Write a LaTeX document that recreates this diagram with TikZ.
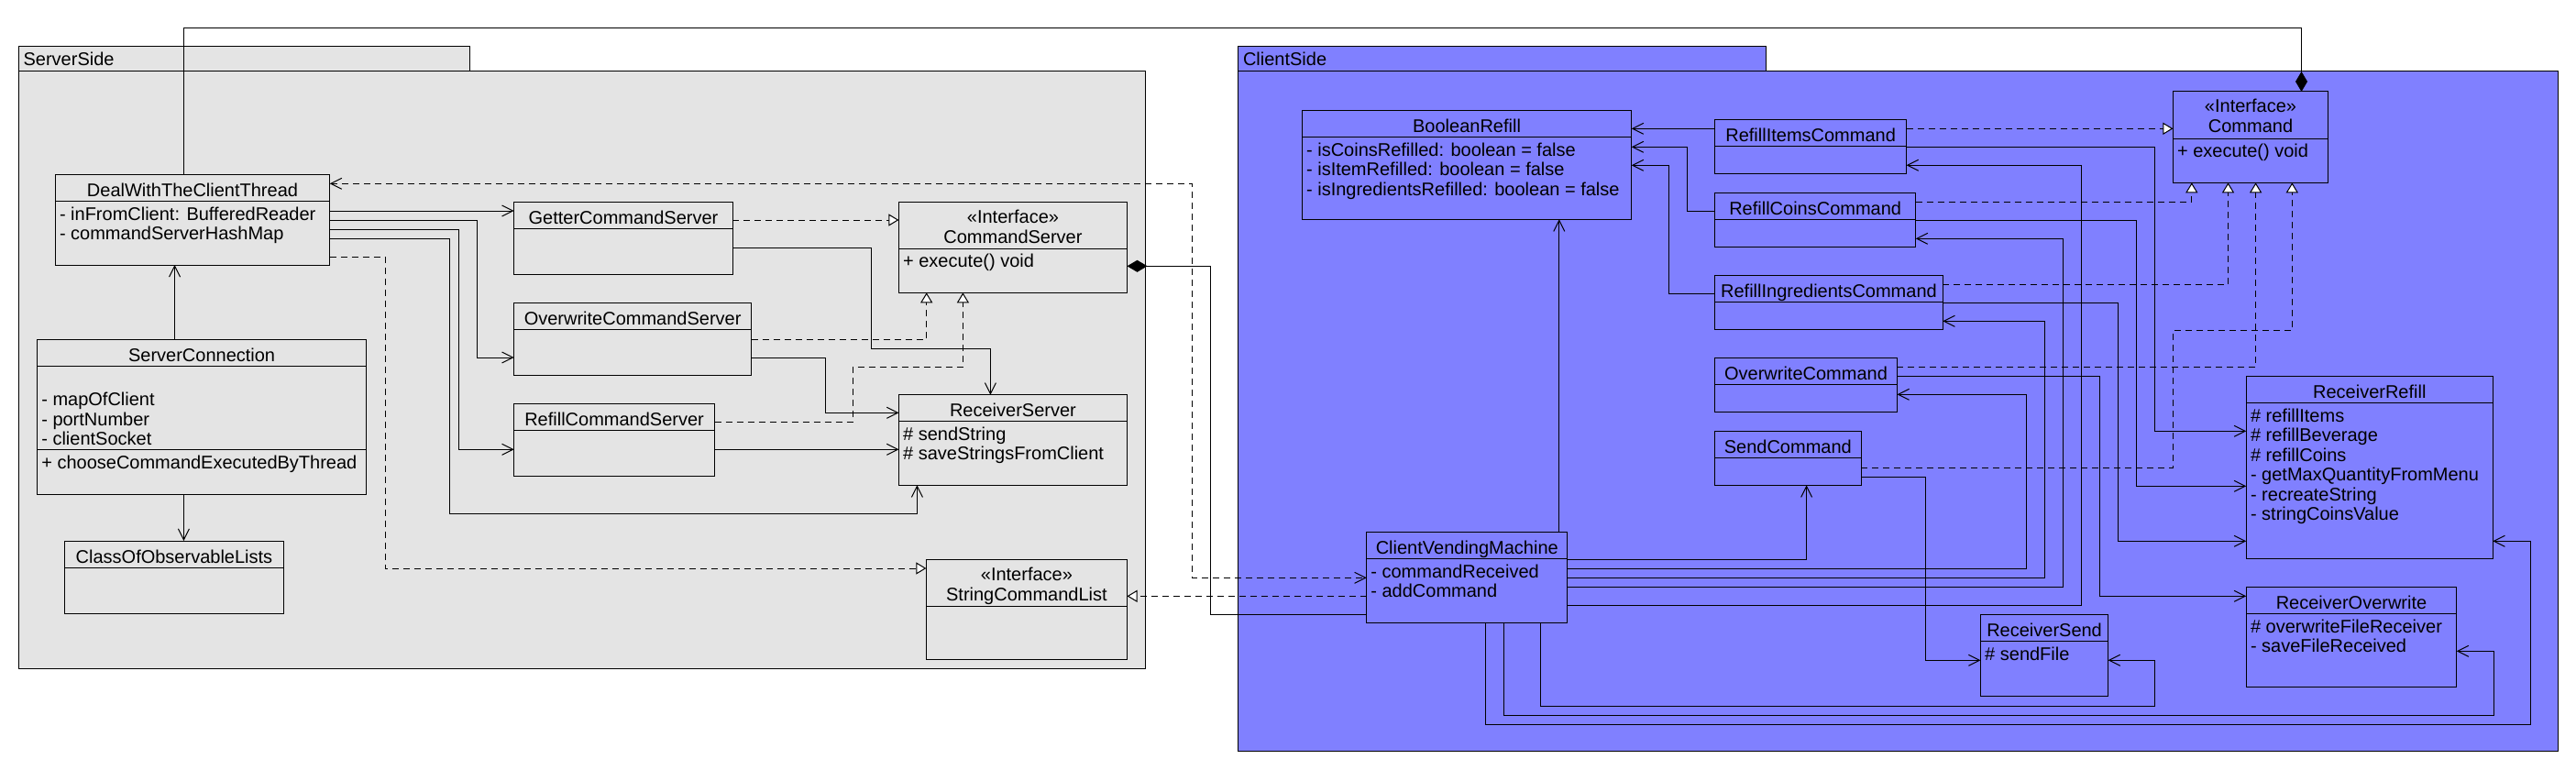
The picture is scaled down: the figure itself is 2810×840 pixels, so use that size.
\documentclass[tikz,border=0pt]{standalone}
\usepackage{fontspec}
\setmainfont{Liberation Sans}
\usetikzlibrary{arrows.meta,fit,calc}
\definecolor{srvgray}{RGB}{228,228,228}
\definecolor{cliblue}{RGB}{128,128,255}
\begin{document}
\begin{tikzpicture}[x=1pt,y=-1pt,
  every node/.style={font=\fontsize{20pt}{21.5pt}\selectfont},
  pkgshape/.style={draw,line width=1pt},
  cls/.style={draw,line width=1pt,inner sep=0pt,outer sep=0pt},
  ttl/.style={inner sep=0pt,anchor=base},
  txt/.style={inner sep=0pt,anchor=base west,xshift=4.5pt},
  conn/.style={line width=1pt},
  assocline/.style={conn,-{Straight Barb[length=12pt,width=12pt]}},
  realline/.style={conn,dash pattern=on 7pt off 5pt,-{Triangle[length=11pt,width=13pt,fill=white]}},
  compend/.style={conn,-{Diamond[length=22pt,width=13pt]}},
  compstart/.style={conn,{Diamond[length=22pt,width=13pt]}-},
  bidep/.style={conn,dash pattern=on 7pt off 5pt,{Straight Barb[length=12pt,width=12pt]}-{Straight Barb[length=12pt,width=12pt]}}
]
\fill[white] (0,0) rectangle (2810,840);
\useasboundingbox (0,0) rectangle (2810,840);

% ---------- packages ----------
\filldraw[pkgshape,fill=srvgray] (20.5,50.3) rectangle (512.5,77.3);
\filldraw[pkgshape,fill=srvgray] (20.5,77.3) rectangle (1249,729.3);
\node[inner sep=0pt,anchor=base west] (srvLbl) at (25.4,71.7) {ServerSide};
\filldraw[pkgshape,fill=cliblue] (1350.5,50.3) rectangle (1926.6,77.3);
\filldraw[pkgshape,fill=cliblue] (1350.5,77.3) rectangle (2790.2,819.3);
\node[inner sep=0pt,anchor=base west] (cliLbl) at (1355.8,71.7) {ClientSide};

% ---------- server classes ----------
\node[cls,fit={(60.3,190.7) (359.7,289)}] (dw) {};
\draw[conn] (dw.west |- 0,219.3) -- (dw.east |- 0,219.3);
\node[ttl] (dwT) at (dw.north |- 0,214.3) {DealWithTheClientThread};
\node[txt] (dwA1) at (dw.west |- 0,240) {- inFromClient: BufferedReader};
\node[txt] (dwA2) at (dw.west |- 0,261.5) {- commandServerHashMap};

\node[cls,fit={(40.6,370) (399.6,539.3)}] (sc) {};
\draw[conn] (sc.west |- 0,399.3) -- (sc.east |- 0,399.3);
\draw[conn] (sc.west |- 0,490.3) -- (sc.east |- 0,490.3);
\node[ttl] (scT) at (sc.north |- 0,394.3) {ServerConnection};
\node[txt] (scA1) at (sc.west |- 0,442.7) {- mapOfClient};
\node[txt] (scA2) at (sc.west |- 0,464.2) {- portNumber};
\node[txt] (scA3) at (sc.west |- 0,485.7) {- clientSocket};
\node[txt] (scM1) at (sc.west |- 0,511.3) {+ chooseCommandExecutedByThread};

\node[cls,fit={(70.5,590) (309.4,669.3)}] (col) {};
\draw[conn] (col.west |- 0,619) -- (col.east |- 0,619);
\node[ttl] (colT) at (col.north |- 0,614) {ClassOfObservableLists};

\node[cls,fit={(560.7,220.7) (799.3,299)}] (gcs) {};
\draw[conn] (gcs.west |- 0,249.3) -- (gcs.east |- 0,249.3);
\node[ttl] (gcsT) at (gcs.north |- 0,244.3) {GetterCommandServer};

\node[cls,fit={(560.7,330.7) (819.6,409.3)}] (ocs) {};
\draw[conn] (ocs.west |- 0,359.3) -- (ocs.east |- 0,359.3);
\node[ttl] (ocsT) at (ocs.north |- 0,354.3) {OverwriteCommandServer};

\node[cls,fit={(560.7,440.7) (779.5,519.3)}] (rcs) {};
\draw[conn] (rcs.west |- 0,469.3) -- (rcs.east |- 0,469.3);
\node[ttl] (rcsT) at (rcs.north |- 0,464.3) {RefillCommandServer};

\node[cls,fit={(980.4,220.3) (1229.5,319.3)}] (cs) {};
\draw[conn] (cs.west |- 0,271.7) -- (cs.east |- 0,271.7);
\node[ttl] (csS) at (cs.north |- 0,243.3) {«Interface»};
\node[ttl] (csT) at (cs.north |- 0,265) {CommandServer};
\node[txt] (csM1) at (cs.west |- 0,291.7) {+ execute() void};

\node[cls,fit={(980.4,430.7) (1229.5,529.3)}] (rs) {};
\draw[conn] (rs.west |- 0,459.3) -- (rs.east |- 0,459.3);
\node[ttl] (rsT) at (rs.north |- 0,454.3) {ReceiverServer};
\node[txt] (rsA1) at (rs.west |- 0,480) {\# sendString};
\node[txt] (rsA2) at (rs.west |- 0,501.5) {\# saveStringsFromClient};

\node[cls,fit={(1010.3,610.3) (1229.5,719.3)}] (scl) {};
\draw[conn] (scl.west |- 0,661.7) -- (scl.east |- 0,661.7);
\node[ttl] (sclS) at (scl.north |- 0,633.3) {«Interface»};
\node[ttl] (sclT) at (scl.north |- 0,655) {StringCommandList};

% ---------- client classes ----------
\node[cls,fit={(1420.4,120.3) (1779.7,239.3)}] (br) {};
\draw[conn] (br.west |- 0,149.3) -- (br.east |- 0,149.3);
\node[ttl] (brT) at (br.north |- 0,144.3) {BooleanRefill};
\node[txt] (brA1) at (br.west |- 0,170) {- isCoinsRefilled: boolean = false};
\node[txt] (brA2) at (br.west |- 0,191.5) {- isItemRefilled: boolean = false};
\node[txt] (brA3) at (br.west |- 0,213) {- isIngredientsRefilled: boolean = false};

\node[cls,fit={(1870.6,130.3) (2079.6,189.3)}] (ric) {};
\draw[conn] (ric.west |- 0,159.3) -- (ric.east |- 0,159.3);
\node[ttl] (ricT) at (ric.north |- 0,154.3) {RefillItemsCommand};

\node[cls,fit={(1870.6,210.3) (2089.7,269.3)}] (rcc) {};
\draw[conn] (rcc.west |- 0,239.3) -- (rcc.east |- 0,239.3);
\node[ttl] (rccT) at (rcc.north |- 0,234.3) {RefillCoinsCommand};

\node[cls,fit={(1870.6,300.3) (2119.3,359.3)}] (rgc) {};
\draw[conn] (rgc.west |- 0,329.3) -- (rgc.east |- 0,329.3);
\node[ttl] (rgcT) at (rgc.north |- 0,324.3) {RefillIngredientsCommand};

\node[cls,fit={(1870.6,390.7) (2069.4,449.3)}] (oc) {};
\draw[conn] (oc.west |- 0,419.3) -- (oc.east |- 0,419.3);
\node[ttl] (ocT) at (oc.north |- 0,414.3) {OverwriteCommand};

\node[cls,fit={(1870.6,470.3) (2030,529.3)}] (sdc) {};
\draw[conn] (sdc.west |- 0,499.3) -- (sdc.east |- 0,499.3);
\node[ttl] (sdcT) at (sdc.north |- 0,494.3) {SendCommand};

\node[cls,fit={(2370.4,100) (2539.6,199.3)}] (cmd) {};
\draw[conn] (cmd.west |- 0,151.3) -- (cmd.east |- 0,151.3);
\node[ttl] (cmdS) at (cmd.north |- 0,123) {«Interface»};
\node[ttl] (cmdT) at (cmd.north |- 0,144.7) {Command};
\node[txt] (cmdM1) at (cmd.west |- 0,171.3) {+ execute() void};

\node[cls,fit={(2450.3,410.7) (2719.3,609.3)}] (rr) {};
\draw[conn] (rr.west |- 0,439.3) -- (rr.east |- 0,439.3);
\node[ttl] (rrT) at (rr.north |- 0,434.3) {ReceiverRefill};
\node[txt] (rrA1) at (rr.west |- 0,460) {\# refillItems};
\node[txt] (rrA2) at (rr.west |- 0,481.5) {\# refillBeverage};
\node[txt] (rrA3) at (rr.west |- 0,503) {\# refillCoins};
\node[txt] (rrA4) at (rr.west |- 0,524.5) {- getMaxQuantityFromMenu};
\node[txt] (rrA5) at (rr.west |- 0,546) {- recreateString};
\node[txt] (rrA6) at (rr.west |- 0,567.5) {- stringCoinsValue};

\node[cls,fit={(2450.3,640.3) (2679.7,749.3)}] (ro) {};
\draw[conn] (ro.west |- 0,669.3) -- (ro.east |- 0,669.3);
\node[ttl] (roT) at (ro.north |- 0,664.3) {ReceiverOverwrite};
\node[txt] (roA1) at (ro.west |- 0,690) {\# overwriteFileReceiver};
\node[txt] (roA2) at (ro.west |- 0,711.5) {- saveFileReceived};

\node[cls,fit={(2160.5,670.3) (2299.6,759.3)}] (rsd) {};
\draw[conn] (rsd.west |- 0,699.3) -- (rsd.east |- 0,699.3);
\node[ttl] (rsdT) at (rsd.north |- 0,694.3) {ReceiverSend};
\node[txt] (rsdA1) at (rsd.west |- 0,720) {\# sendFile};

\node[cls,fit={(1490.7,580.3) (1709.9,679.3)}] (cvm) {};
\draw[conn] (cvm.west |- 0,609.3) -- (cvm.east |- 0,609.3);
\node[ttl] (cvmT) at (cvm.north |- 0,604.3) {ClientVendingMachine};
\node[txt] (cvmA1) at (cvm.west |- 0,630) {- commandReceived};
\node[txt] (cvmA2) at (cvm.west |- 0,651.5) {- addCommand};

% ---------- server connectors ----------
\draw[assocline] (dw.east |- 0,230) -- (gcs.west |- 0,230);
\draw[assocline] (dw.east |- 0,240.3) -| (520,390) -- (ocs.west |- 0,390);
\draw[assocline] (dw.east |- 0,250.3) -| (500,490.3) -- (rcs.west |- 0,490.3);
\draw[assocline] (dw.east |- 0,260.3) -| (490.6,560.3) -| (rs.south -| 1000.4,0);
\draw[realline] (dw.east |- 0,280) -| (420,620) -- (scl.west |- 0,620);
\draw[assocline] (sc.north -| 190.6,0) -- (dw.south -| 190.6,0);
\draw[assocline] (sc.south -| 200.4,0) -- (col.north -| 200.4,0);
\draw[realline] (gcs.east |- 0,240) -- (cs.west |- 0,240);
\draw[assocline] (gcs.east |- 0,270.3) -| (950.4,380.3) -| (rs.north -| 1080.4,0);
\draw[realline] (ocs.east |- 0,370.3) -| (cs.south -| 1010.7,0);
\draw[assocline] (ocs.east |- 0,390.3) -| (900.4,450.3) -- (rs.west |- 0,450.3);
\draw[realline] (rcs.east |- 0,460.3) -| (930.4,400.3) -| (cs.south -| 1050.4,0);
\draw[assocline] (rcs.east |- 0,490.3) -- (rs.west |- 0,490.3);

% ---------- cross connectors ----------
\draw[compend] (dw.north -| 200.4,0) |- (2510.5,30.3) -- (cmd.north -| 2510.5,0);
\draw[compstart] (cs.east |- 0,290.3) -| (1320.5,670.3) -- (cvm.west |- 0,670.3);
\draw[bidep] (dw.east |- 0,200.3) -| (1300.4,630.3) -- (cvm.west |- 0,630.3);
\draw[realline] (cvm.west |- 0,650.3) -- (scl.east |- 0,650.3);

% ---------- client connectors ----------
\draw[assocline] (ric.west |- 0,140.3) -- (br.east |- 0,140.3);
\draw[assocline] (rcc.west |- 0,230.3) -| (1840.5,160.3) -- (br.east |- 0,160.3);
\draw[assocline] (rgc.west |- 0,320.3) -| (1820.9,180.3) -- (br.east |- 0,180.3);
\draw[assocline] (cvm.north -| 1700.8,0) -- (br.south -| 1700.8,0);
\draw[realline] (ric.east |- 0,140.3) -- (cmd.west |- 0,140.3);
\draw[assocline] (ric.east |- 0,160.3) -| (2350.5,470.3) -- (rr.west |- 0,470.3);
\draw[assocline] (cvm.east |- 0,660.3) -| (2270.6,180.3) -- (ric.east |- 0,180.3);
\draw[realline] (rcc.east |- 0,220.3) -| (cmd.south -| 2390.8,0);
\draw[assocline] (rcc.east |- 0,240.3) -| (2330.7,530.3) -- (rr.west |- 0,530.3);
\draw[assocline] (cvm.east |- 0,640.3) -| (2250.7,260.3) -- (rcc.east |- 0,260.3);
\draw[realline] (rgc.east |- 0,310.3) -| (cmd.south -| 2430.5,0);
\draw[assocline] (rgc.east |- 0,330.3) -| (2310.3,590.3) -- (rr.west |- 0,590.3);
\draw[assocline] (cvm.east |- 0,630.3) -| (2230.3,350.3) -- (rgc.east |- 0,350.3);
\draw[realline] (oc.east |- 0,400.3) -| (cmd.south -| 2460.6,0);
\draw[assocline] (oc.east |- 0,410.3) -| (2290.4,650.3) -- (ro.west |- 0,650.3);
\draw[assocline] (cvm.east |- 0,620.3) -| (2210.4,430.3) -- (oc.east |- 0,430.3);
\draw[realline] (sdc.east |- 0,510.3) -| (2370.4,360.3) -| (cmd.south -| 2500.3,0);
\draw[assocline] (sdc.east |- 0,520.3) -| (2100.4,720.3) -- (rsd.west |- 0,720.3);
\draw[assocline] (cvm.east |- 0,610.3) -| (sdc.south -| 1970.6,0);
\draw[assocline] (cvm.south -| 1680.7,0) |- (2350.5,770.3) |- (rsd.east |- 0,720.3);
\draw[assocline] (cvm.south -| 1640.5,0) |- (2720.4,780.3) |- (ro.east |- 0,710.3);
\draw[assocline] (cvm.south -| 1620.4,0) |- (2760.6,790.3) |- (rr.east |- 0,590.3);
\end{tikzpicture}
\end{document}
